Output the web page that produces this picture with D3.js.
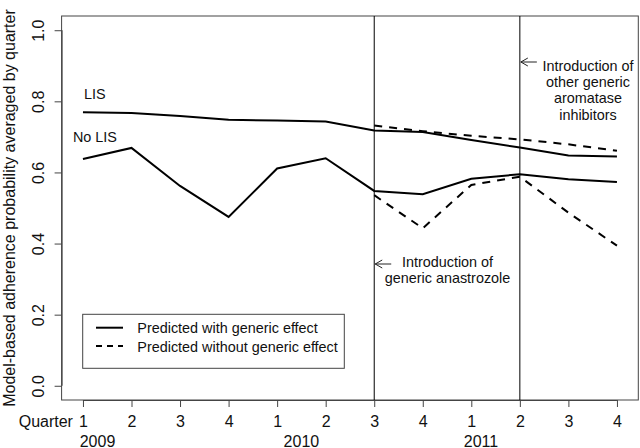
<!DOCTYPE html>
<html><head><meta charset="utf-8">
<script src="https://cdn.jsdelivr.net/npm/d3@7"></script>
<style>body{margin:0;background:#fff}svg{display:block}text{font-family:"Liberation Sans",Arial,sans-serif;fill:#111}</style>
</head><body><svg id="c" width="640" height="448"></svg>
<script>
const quarterLabels = ["1","2","3","4","1","2","3","4","1","2","3","4"];
const years = [{label:"2009", pos:1.3},{label:"2010", pos:5.5},{label:"2011", pos:9.2}];
const yTicks = [0,0.2,0.4,0.6,0.8,1.0];
const lisWith = [0.769,0.767,0.759,0.748,0.746,0.743,0.718,0.714,0.691,0.670,0.648,0.645];
const lisWithout = [null,null,null,null,null,null,0.732,0.716,0.703,0.693,0.679,0.661];
const noLisWith = [0.638,0.669,0.562,0.475,0.611,0.640,0.548,0.539,0.582,0.595,0.581,0.573];
const noLisWithout = [null,null,null,null,null,null,0.536,0.443,0.565,0.588,0.487,0.394];
const events = [{q:7, lines:["Introduction of","generic anastrozole"]},{q:10, lines:["Introduction of","other generic","aromatase","inhibitors"]}];

const svg = d3.select("#c");
const L=61.6, R=638.3, T=16, B=400;
const x = d3.scaleLinear().domain([1-0.44,12+0.44]).range([L,R]);
const y = d3.scaleLinear().domain([-0.04,1.04]).range([B,T]);
const idx = d3.range(1,13);

// box
svg.append("rect").attr("x",L).attr("y",T).attr("width",R-L).attr("height",B-T)
  .attr("fill","none").attr("stroke","#444").attr("stroke-width",1);

// x axis
const xa = svg.append("g").attr("transform",`translate(0,${B})`)
  .call(d3.axisBottom(x).tickValues(idx).tickSize(7).tickSizeOuter(0).tickFormat(d=>quarterLabels[d-1]));
xa.select(".domain").attr("d",`M${x(1)},0.5H${x(12)}`).attr("stroke","#444");
xa.selectAll(".tick line").attr("stroke","#444");
xa.selectAll(".tick text").attr("font-size",16).attr("dy",0).attr("y",27).attr("font-family","Liberation Sans, Arial, sans-serif").attr("fill","#111");
svg.append("text").attr("x",x(1)-10).attr("y",427).attr("text-anchor","end").attr("font-size",16).text("Quarter");
years.forEach(d=>svg.append("text").attr("x",x(d.pos)).attr("y",446.5).attr("text-anchor","middle").attr("font-size",16).text(d.label));

// y axis
const ya = svg.append("g").attr("transform",`translate(${L},0)`)
  .call(d3.axisLeft(y).tickValues(yTicks).tickSize(7).tickSizeOuter(0).tickFormat(d3.format(".1f")));
ya.select(".domain").attr("d",`M0.5,${y(0)}V${y(1)}`).attr("stroke","#444");
ya.selectAll(".tick line").attr("stroke","#444");
ya.selectAll(".tick text").remove();
ya.selectAll(".tick").append("text").attr("transform","translate(-18,0) rotate(-90)")
  .attr("text-anchor","middle").attr("font-size",16).attr("fill","#111")
  .attr("font-family","Liberation Sans, Arial, sans-serif").text(d=>d3.format(".1f")(d));
svg.append("text").attr("transform",`translate(15,${(T+B)/2}) rotate(-90)`).attr("text-anchor","middle")
  .attr("font-size",16).text("Model-based adherence probability averaged by quarter");

// event lines
events.forEach(e=>{
  const ex = x(e.q);
  svg.append("line").attr("x1",ex).attr("x2",ex).attr("y1",T).attr("y2",B).attr("stroke","#000").attr("stroke-width",1);
});

// series
const line = d3.line().defined(d=>d[1]!=null).x(d=>x(d[0])).y(d=>y(d[1]));
function draw(vals,dash){
  svg.append("path").datum(vals.map((v,i)=>[i+1,v])).attr("d",line).attr("fill","none")
    .attr("stroke","#000").attr("stroke-width",2).attr("stroke-dasharray",dash?"8,7":null);
}
draw(lisWithout,true); draw(noLisWithout,true);
draw(lisWith,false); draw(noLisWith,false);

svg.append("text").attr("x",x(1)+1).attr("y",99.3).attr("font-size",14.4).text("LIS");
svg.append("text").attr("x",x(1)-10).attr("y",141.7).attr("font-size",14.4).text("No LIS");

// annotations
function arrow(x0,yy,len){
  svg.append("path").attr("d",`M${x0+len},${yy}H${x0+1}M${x0+8},${yy-4}L${x0+1},${yy}L${x0+8},${yy+4}`)
    .attr("fill","none").attr("stroke","#222").attr("stroke-width",1);
}
arrow(x(7),264,17);
events[0].lines.forEach((t,i)=>svg.append("text").attr("x",447.5).attr("y",266.7+i*16).attr("text-anchor","middle").attr("font-size",14.4).text(t));
arrow(x(10),62,17);
const bl=[71,87,103,120];
events[1].lines.forEach((t,i)=>svg.append("text").attr("x",588).attr("y",bl[i]).attr("text-anchor","middle").attr("font-size",14.4).text(t));

// legend
svg.append("rect").attr("x",82.7).attr("y",314.3).attr("width",261.6).attr("height",54).attr("fill","#fff").attr("stroke","#444").attr("stroke-width",1);
const leg=[{t:"Predicted with generic effect",d:false},{t:"Predicted without generic effect",d:true}];
leg.forEach((l,i)=>{
  const yy=[332.7,351][i];
  svg.append("line").attr("x1",96).attr("x2",123).attr("y1",yy-5).attr("y2",yy-5).attr("stroke","#000").attr("stroke-width",2).attr("stroke-dasharray",l.d?"6,5":null);
  svg.append("text").attr("x",137.3).attr("y",yy+0.5).attr("font-size",14.4).text(l.t);
});
</script></body></html>
